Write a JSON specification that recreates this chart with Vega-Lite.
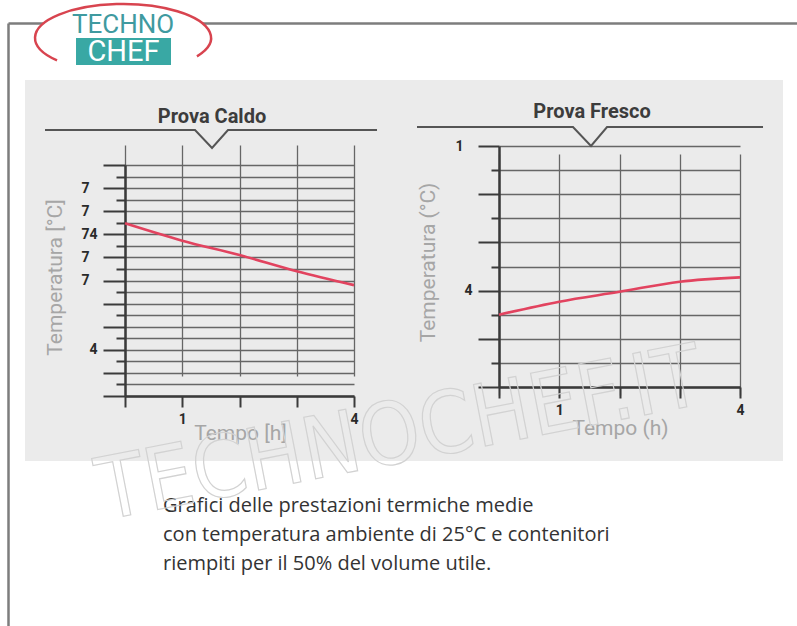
{
  "$schema": "https://vega.github.io/schema/vega-lite/v6.json",
  "width": 758,
  "height": 381,
  "autosize": {"type": "none"},
  "padding": {"left": 25, "top": 80, "right": 14, "bottom": 165},
  "background": "#ffffff",
  "view": {"fill": "#ebebeb", "stroke": null},
  "datasets": {
    "caldo": [
      {"t": 0, "temp": 74.95}, {"t": 1, "temp": 73.45}, {"t": 2, "temp": 72.2}, {"t": 3, "temp": 70.8}, {"t": 4, "temp": 69.6}
    ],
    "fresco": [
      {"t": 0, "temp": 3.0}, {"t": 1, "temp": 3.54}, {"t": 2, "temp": 3.95}, {"t": 3, "temp": 4.37}, {"t": 4, "temp": 4.55}
    ],
    "bracketCaldo": [
      {"t": -1.397, "temp": 83.03}, {"t": 1.223, "temp": 83.03}, {"t": 1.52, "temp": 81.47}, {"t": 1.799, "temp": 83.03}, {"t": 4.402, "temp": 83.03}
    ],
    "bracketFresco": [
      {"t": -1.361, "temp": 10.788}, {"t": 1.228, "temp": 10.788}, {"t": 1.527, "temp": 10.0}, {"t": 1.793, "temp": 10.788}, {"t": 4.382, "temp": 10.788}
    ]
  },
  "resolve": {"scale": {"x": "independent", "y": "independent"}, "axis": {"x": "independent", "y": "independent"}},
  "layer": [
    {
      "layer": [
        {
          "data": {"values": [{"lx": 14.58, "ly": 2.49}]},
          "mark": {"type": "point", "shape": "M-1,0A1,0.386,0,1,1,1,0A1,0.386,0,1,1,-1,0Z", "size": 30976, "filled": true, "fill": "#ffffff", "opacity": 1, "strokeWidth": 0},
          "encoding": {
            "x": {"field": "lx", "type": "quantitative", "scale": {"domain": [0, 100], "range": [-17, 772], "nice": false, "zero": false},
                  "axis": {"orient": "top", "offset": 57, "domain": true, "domainColor": "#7d7d7d", "domainWidth": 2.5, "ticks": false, "labels": false, "grid": false, "title": null}},
            "y": {"field": "ly", "type": "quantitative", "scale": {"domain": [0, 100], "range": [-57, 546], "nice": false, "zero": false},
                  "axis": {"orient": "left", "offset": 17, "domain": true, "domainColor": "#7d7d7d", "domainWidth": 2.5, "ticks": false, "labels": false, "grid": false, "title": null}}
          }
        },
        {
          "data": {"values": [{"lx": 14.58, "ly": 2.49}]},
          "mark": {"type": "point", "shape": "M-0.75,0.255A1,0.386,0,1,1,0.84,0.209", "size": 30976, "filled": false, "stroke": "#d8444f", "strokeWidth": 2.5, "opacity": 1},
          "encoding": {
            "x": {"field": "lx", "type": "quantitative", "scale": {"domain": [0, 100], "range": [-17, 772], "nice": false, "zero": false}},
            "y": {"field": "ly", "type": "quantitative", "scale": {"domain": [0, 100], "range": [-57, 546], "nice": false, "zero": false}}
          }
        },
        {
          "data": {"values": [{"lx": 8.62, "lx2": 20.66, "ly": 2.49, "ly2": 6.97}]},
          "mark": {"type": "rect", "color": "#39a8a4"},
          "encoding": {
            "x": {"field": "lx", "type": "quantitative", "scale": {"domain": [0, 100], "range": [-17, 772], "nice": false, "zero": false}},
            "x2": {"field": "lx2"},
            "y": {"field": "ly", "type": "quantitative", "scale": {"domain": [0, 100], "range": [-57, 546], "nice": false, "zero": false}},
            "y2": {"field": "ly2"}
          }
        },
        {
          "data": {"values": [{"lx": 14.58, "ly": 0.33, "word": "TECHNO"}]},
          "mark": {"type": "text", "font": "Roboto", "fontSize": 26, "color": "#3f9aa0", "align": "center", "baseline": "middle"},
          "encoding": {
            "x": {"field": "lx", "type": "quantitative", "scale": {"domain": [0, 100], "range": [-17, 772], "nice": false, "zero": false}},
            "y": {"field": "ly", "type": "quantitative", "scale": {"domain": [0, 100], "range": [-57, 546], "nice": false, "zero": false}},
            "text": {"field": "word"}
          }
        },
        {
          "data": {"values": [{"lx": 14.64, "ly": 4.81, "word": "CHEF"}]},
          "mark": {"type": "text", "font": "Roboto", "fontSize": 29, "color": "#ffffff", "align": "center", "baseline": "middle"},
          "encoding": {
            "x": {"field": "lx", "type": "quantitative", "scale": {"domain": [0, 100], "range": [-17, 772], "nice": false, "zero": false}},
            "y": {"field": "ly", "type": "quantitative", "scale": {"domain": [0, 100], "range": [-57, 546], "nice": false, "zero": false}},
            "text": {"field": "word"}
          }
        },
        {
          "data": {"values": [{"lx": 19.65, "ly": 81.09, "caption": "Grafici delle prestazioni termiche medie\ncon temperatura ambiente di 25°C e contenitori\nriempiti per il 50% del volume utile."}]},
          "mark": {"type": "text", "font": "Open Sans", "fontSize": 20, "color": "#333333", "align": "left", "baseline": "alphabetic", "lineBreak": "\n", "lineHeight": 29},
          "encoding": {
            "x": {"field": "lx", "type": "quantitative", "scale": {"domain": [0, 100], "range": [-17, 772], "nice": false, "zero": false}},
            "y": {"field": "ly", "type": "quantitative", "scale": {"domain": [0, 100], "range": [-57, 546], "nice": false, "zero": false}},
            "text": {"field": "caption"}
          }
        }
      ]
    },
    {
      "layer": [
        {
          "data": {"name": "caldo"},
          "mark": {"type": "line", "color": "#e2435f", "strokeWidth": 2.6, "interpolate": "monotone"},
          "encoding": {
            "x": {"field": "t", "type": "quantitative", "scale": {"domain": [0, 4], "range": [100, 329], "nice": false, "zero": false},
                  "axis": {"orient": "bottom", "offset": -65, "values": [0, 1, 2, 3, 4], "tickCount": 8, "grid": true, "gridColor": "#666666", "gridWidth": 1.3,
                           "domainColor": "#3a3a3a", "domainWidth": 2.5, "tickColor": "#3a3a3a", "tickWidth": 2, "tickSize": 11,
                           "labelExpr": "datum.value == 1 ? '1' : datum.value == 4 ? '4' : ''", "labelFlush": false, "labelOverlap": false, "labelBound": false,
                           "labelFont": "Roboto", "labelFontWeight": "bold", "labelFontSize": 14, "labelColor": "#2a2a2a", "labelPadding": 5,
                           "title": "Tempo [h]", "titleFont": "Roboto", "titleFontSize": 21, "titleFontWeight": "normal", "titleColor": "#a6a6a6",
                           "titleX": 215, "titleY": 37, "titleAlign": "center", "titleBaseline": "middle"}},
            "y": {"field": "temp", "type": "quantitative", "scale": {"domain": [60, 80], "range": [316, 85], "nice": false, "zero": false},
                  "axis": {"orient": "left", "offset": -100, "values": [60, 61, 62, 63, 64, 65, 66, 67, 68, 69, 70, 71, 72, 73, 74, 75, 76, 77, 78, 79, 80], "tickCount": 30,
                           "grid": true, "gridColor": "#666666", "gridWidth": 1.3,
                           "domainColor": "#3a3a3a", "domainWidth": 2.5, "tickColor": "#3a3a3a", "tickWidth": 2,
                           "tickSize": {"condition": {"test": "datum.value % 2 !== 0", "value": 9}, "value": 22},
                           "labelExpr": "datum.value == 74 ? '74' : datum.value == 64 ? '4' : (datum.value == 78 || datum.value == 76 || datum.value == 72 || datum.value == 70) ? '7' : ''",
                           "labelOverlap": false, "labelBound": false, "labelFlush": false,
                           "labelFont": "Roboto", "labelFontWeight": "bold", "labelFontSize": 14, "labelColor": "#2a2a2a",
                           "labelPadding": {"condition": {"test": "datum.value == 78 || datum.value == 76 || datum.value == 72 || datum.value == 70", "value": 14}, "value": 6},
                           "title": "Temperatura [°C]", "titleFont": "Roboto", "titleFontSize": 21, "titleFontWeight": "normal", "titleColor": "#a6a6a6",
                           "titleX": -70, "titleY": 197, "titleAlign": "center", "titleBaseline": "middle", "titleAngle": -90}}
          }
        },
        {
          "data": {"name": "bracketCaldo"},
          "mark": {"type": "line", "color": "#555555", "strokeWidth": 2},
          "encoding": {
            "x": {"field": "t", "type": "quantitative", "scale": {"domain": [0, 4], "range": [100, 329], "nice": false, "zero": false}},
            "y": {"field": "temp", "type": "quantitative", "scale": {"domain": [60, 80], "range": [316, 85], "nice": false, "zero": false}}
          }
        },
        {
          "data": {"values": [{"t": 1.52, "temp": 83.64, "label": "Prova Caldo"}]},
          "mark": {"type": "text", "font": "Roboto", "fontSize": 20, "fontWeight": "bold", "color": "#3c3c3c", "align": "center", "baseline": "alphabetic"},
          "encoding": {
            "x": {"field": "t", "type": "quantitative", "scale": {"domain": [0, 4], "range": [100, 329], "nice": false, "zero": false}},
            "y": {"field": "temp", "type": "quantitative", "scale": {"domain": [60, 80], "range": [316, 85], "nice": false, "zero": false}},
            "text": {"field": "label"}
          }
        }
      ]
    },
    {
      "layer": [
        {
          "data": {"name": "fresco"},
          "mark": {"type": "line", "color": "#e2435f", "strokeWidth": 2.6, "interpolate": "monotone"},
          "encoding": {
            "x": {"field": "t", "type": "quantitative", "scale": {"domain": [0, 4], "range": [474, 715], "nice": false, "zero": false},
                  "axis": {"orient": "bottom", "offset": -74, "values": [0, 1, 2, 3, 4], "tickCount": 8, "grid": true, "gridColor": "#666666", "gridWidth": 1.3,
                           "domainColor": "#3a3a3a", "domainWidth": 2.5, "tickColor": "#3a3a3a", "tickWidth": 2, "tickSize": 11,
                           "labelExpr": "datum.value == 1 ? '1' : datum.value == 4 ? '4' : ''", "labelFlush": false, "labelOverlap": false, "labelBound": false,
                           "labelFont": "Roboto", "labelFontWeight": "bold", "labelFontSize": 14, "labelColor": "#2a2a2a", "labelPadding": 5,
                           "title": "Tempo (h)", "titleFont": "Roboto", "titleFontSize": 21, "titleFontWeight": "normal", "titleColor": "#a6a6a6",
                           "titleX": 595, "titleY": 41, "titleAlign": "center", "titleBaseline": "middle"}},
            "y": {"field": "temp", "type": "quantitative", "scale": {"domain": [0, 10], "range": [307, 66], "nice": false, "zero": false},
                  "axis": {"orient": "left", "offset": -474, "values": [0, 1, 2, 3, 4, 5, 6, 7, 8, 9, 10], "tickCount": 16,
                           "grid": true, "gridColor": "#666666", "gridWidth": 1.3,
                           "domainColor": "#3a3a3a", "domainWidth": 2.5, "tickColor": "#3a3a3a", "tickWidth": 2,
                           "tickSize": {"condition": {"test": "datum.value % 2 !== 0", "value": 8}, "value": 21},
                           "labelExpr": "datum.value == 10 ? '1' : datum.value == 4 ? '4' : ''",
                           "labelOverlap": false, "labelBound": false, "labelFlush": false,
                           "labelFont": "Roboto", "labelFontWeight": "bold", "labelFontSize": 14, "labelColor": "#2a2a2a",
                           "labelPadding": {"condition": {"test": "datum.value == 10", "value": 15}, "value": 6},
                           "title": "Temperatura (°C)", "titleFont": "Roboto", "titleFontSize": 21, "titleFontWeight": "normal", "titleColor": "#a6a6a6",
                           "titleX": -71, "titleY": 182, "titleAlign": "center", "titleBaseline": "middle", "titleAngle": -90}}
          }
        },
        {
          "data": {"name": "bracketFresco"},
          "mark": {"type": "line", "color": "#555555", "strokeWidth": 2},
          "encoding": {
            "x": {"field": "t", "type": "quantitative", "scale": {"domain": [0, 4], "range": [474, 715], "nice": false, "zero": false}},
            "y": {"field": "temp", "type": "quantitative", "scale": {"domain": [0, 10], "range": [307, 66], "nice": false, "zero": false}}
          }
        },
        {
          "data": {"values": [{"t": 1.544, "temp": 11.16, "label": "Prova Fresco"}]},
          "mark": {"type": "text", "font": "Roboto", "fontSize": 20, "fontWeight": "bold", "color": "#3c3c3c", "align": "center", "baseline": "alphabetic"},
          "encoding": {
            "x": {"field": "t", "type": "quantitative", "scale": {"domain": [0, 4], "range": [474, 715], "nice": false, "zero": false}},
            "y": {"field": "temp", "type": "quantitative", "scale": {"domain": [0, 10], "range": [307, 66], "nice": false, "zero": false}},
            "text": {"field": "label"}
          }
        }
      ]
    },
    {
      "data": {"values": [{"lx": 49.68, "ly": 68.5, "word": "TECHNOCHEF.IT"}]},
      "mark": {"type": "text", "font": "Liberation Sans Narrow, DejaVu Sans Condensed, Roboto", "fontSize": 86, "angle": -11, "align": "center", "baseline": "middle", "fillOpacity": 0, "stroke": "#d2d2d2", "strokeWidth": 1.2},
      "encoding": {
        "x": {"field": "lx", "type": "quantitative", "scale": {"domain": [0, 100], "range": [-17, 772], "nice": false, "zero": false}, "axis": null},
        "y": {"field": "ly", "type": "quantitative", "scale": {"domain": [0, 100], "range": [-57, 546], "nice": false, "zero": false}, "axis": null},
        "text": {"field": "word"}
      }
    }
  ]
}
